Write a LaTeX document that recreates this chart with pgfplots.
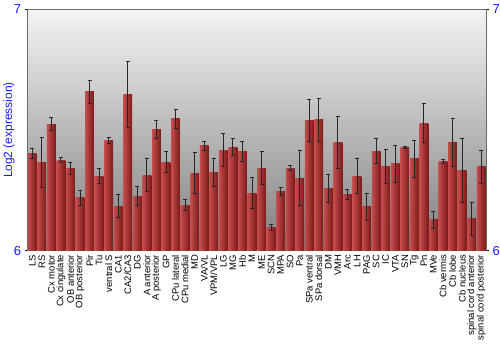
\documentclass[border=0pt]{standalone}
\usepackage{pgfplots}
\pgfplotsset{compat=1.18}
\usepackage{pgfplotstable}
\usepackage{fontspec}
\setmainfont{Liberation Sans}
\definecolor{barL}{RGB}{198,76,76}
\definecolor{barM}{RGB}{176,52,52}
\definecolor{barR}{RGB}{122,26,26}
\definecolor{bgtop}{RGB}{244,244,244}
\definecolor{bgbot}{RGB}{126,126,126}
\definecolor{framec}{RGB}{105,105,105}
\definecolor{tickblue}{RGB}{25,25,245}

\pgfplotstableread{
x y err
0 6.402 0.020
1 6.366 0.105
2 6.524 0.027
3 6.376 0.012
4 6.342 0.025
5 6.219 0.031
6 6.659 0.048
7 6.309 0.031
8 6.457 0.012
9 6.185 0.047
10 6.648 0.138
11 6.226 0.039
12 6.313 0.068
13 6.504 0.037
14 6.367 0.044
15 6.547 0.039
16 6.189 0.024
17 6.322 0.085
18 6.435 0.018
19 6.323 0.058
20 6.417 0.068
21 6.429 0.036
22 6.412 0.041
23 6.239 0.064
24 6.342 0.068
25 6.096 0.014
26 6.247 0.017
27 6.342 0.010
28 6.301 0.115
29 6.539 0.087
30 6.543 0.088
31 6.258 0.057
32 6.450 0.107
33 6.234 0.022
34 6.309 0.073
35 6.182 0.057
36 6.413 0.053
37 6.349 0.070
38 6.360 0.078
39 6.427 0.004
40 6.381 0.078
41 6.529 0.080
42 6.128 0.036
43 6.370 0.007
44 6.449 0.100
45 6.333 0.132
46 6.132 0.067
47 6.348 0.069
}\data

\begin{document}
\begin{tikzpicture}
\begin{axis}[
  scale only axis, width=458.5bp, height=241.2bp,
  xmin=-0.5, xmax=47.5, ymin=6, ymax=7,
  ybar, bar width=8.8bp,
  axis background/.style={top color=bgtop, bottom color=bgbot},
  axis line style={draw=none},
  xtick={0,...,47},
  xticklabels={LS,RS,Cx motor,Cx cingulate,OB anterior,OB posterior,Pir,Tu,ventral S,CA1,CA2/CA3,DG,A anterior,A posterior,GP,CPu lateral,CPu medial,MD,VA/VL,VPM/VPL,LG,MG,Hb,M,ME,SCN,MPA,SO,Pa,SPa ventral,SPa dorsal,DM,VMH,Arc,LH,PAG,SC,IC,VTA,SN,Tg,Pn,MVe,Cb vermis,Cb lobe,Cb nucleus,spinal cord anterior,spinal cord posterior},
  xticklabel style={rotate=90, anchor=east, font=\fontsize{9.5}{10}\selectfont, inner sep=1bp},
  x tick style={draw=none},
  ytick={6,7}, ytick pos=left, tick align=outside, major tick length=3bp,
  y tick style={black, line width=0.8pt},
  yticklabel style={tickblue, font=\fontsize{13}{14}\selectfont},
  /pgf/number format/assume math mode=true,
  ylabel={Log2 (expression)},
  every axis y label/.style={at={(axis description cs:-0.0403,0.5)}, rotate=90, anchor=center},
  ylabel style={tickblue, font=\fontsize{12}{13}\selectfont},
]
\pgfplotsinvokeforeach{0,...,47}{
\addplot[draw=none, bar shift=0pt, left color=barL, middle color=barM, right color=barR,
  restrict x to domain=#1:#1,
  error bars/.cd, y dir=both, y explicit,
  error bar style={black!85, line width=0.9pt},
  error mark options={black!85, rotate=90, mark size=2bp, line width=0.9pt}]
  table[x=x, y=y, y error=err] {\data};
}
\coordinate (ll) at (rel axis cs:0,0);
\coordinate (ur) at (rel axis cs:1,1);
\end{axis}
\begin{axis}[
  scale only axis, width=458.5bp, height=241.2bp,
  xmin=-0.5, xmax=47.5, ymin=6, ymax=7,
  axis x line=none, axis y line*=right, axis line style={draw=none},
  ytick={6,7}, tick align=outside, major tick length=3bp,
  y tick style={black, line width=0.8pt},
  yticklabel style={tickblue, font=\fontsize{13}{14}\selectfont},
  /pgf/number format/assume math mode=true,
]
\addplot[draw=none, forget plot] coordinates {(0,6.5)};
\end{axis}
\draw[framec, line width=0.9pt] (ll) -- (ll|-ur) -- (ur) -- (ur|-ll);
\pgfresetboundingbox
\path ([shift={(-27.5bp,-99.3bp)}]ll) rectangle ([shift={(14bp,9.5bp)}]ur);
\end{tikzpicture}
\end{document}
